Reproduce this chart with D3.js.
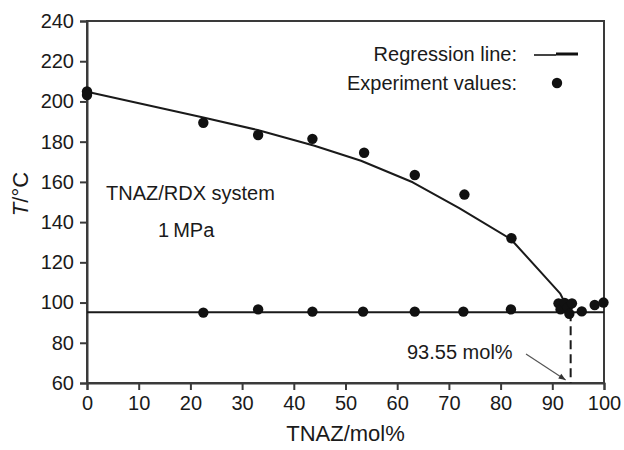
<!DOCTYPE html>
<html>
<head>
<meta charset="utf-8">
<script src="https://cdn.jsdelivr.net/npm/d3@7/dist/d3.min.js"></script>
<style>
  html, body { margin: 0; padding: 0; background: #fff; }
  svg { display: block; font-family: "Liberation Sans", Arial, sans-serif; }
</style>
</head>
<body>
<svg id="chart" width="624" height="450"></svg>
<script>
// Tick values
const xTicks = [0, 10, 20, 30, 40, 50, 60, 70, 80, 90, 100];
const yTicks = [60, 80, 100, 120, 140, 160, 180, 200, 220, 240];

// Regression line for the RDX liquidus (TNAZ mol%, T °C)
const regX = [0, 22.5, 33, 44, 53, 63, 72, 82, 91.5, 92.4];
const regT = [204.8, 192, 185.8, 178, 170.5, 159.8, 147, 131.5, 104.6, 100];

// Eutectic (solidus) line
const eutecticT = 95.2;
const eutecticX = 93.55;

// Experiment values: liquidus
const liqX = [0, 0, 22.5, 33.1, 43.6, 53.6, 63.4, 73, 82.1];
const liqT = [205, 203.2, 189.4, 183.3, 181.4, 174.5, 163.4, 153.7, 132];

// Experiment values: solidus and TNAZ-rich side
const solX = [22.5, 33.1, 43.6, 53.4, 63.4, 72.8, 82, 91.2, 91.6, 92.4, 93.0, 93.3, 93.8, 95.7, 98.2, 99.9];
const solT = [95, 96.6, 95.5, 95.5, 95.5, 95.5, 96.6, 99.6, 96.6, 99.8, 97.6, 94.4, 99.6, 95.6, 98.8, 100];

const svg = d3.select("#chart");
const x = d3.scaleLinear().domain([0, 100]).range([87, 604]);
const y = d3.scaleLinear().domain([60, 240]).range([383, 21]);

const ink = "#1a1a1a";
const axisCol = "#3a3a3a";

// Frame
svg.append("rect")
  .attr("x", x(0)).attr("y", y(240))
  .attr("width", x(100) - x(0)).attr("height", y(60) - y(240))
  .attr("fill", "none").attr("stroke", axisCol).attr("stroke-width", 2);

// Axes
const xAxis = svg.append("g")
  .attr("transform", `translate(0,${y(60)})`)
  .call(d3.axisBottom(x).tickValues(xTicks).tickSize(7).tickPadding(6).tickFormat(d3.format("d")));
const yAxis = svg.append("g")
  .attr("transform", `translate(${x(0)},0)`)
  .call(d3.axisLeft(y).tickValues(yTicks).tickSize(7).tickPadding(6).tickFormat(d3.format("d")));
[xAxis, yAxis].forEach(g => {
  g.select(".domain").attr("stroke", axisCol).attr("stroke-width", 2);
  g.selectAll(".tick line").attr("stroke", axisCol).attr("stroke-width", 2);
  g.selectAll(".tick text").attr("fill", ink).attr("font-size", 20)
    .attr("font-family", "'Liberation Sans', Arial, sans-serif");
});

// Eutectic horizontal line
svg.append("line")
  .attr("x1", x(0)).attr("x2", x(100))
  .attr("y1", y(eutecticT)).attr("y2", y(eutecticT))
  .attr("stroke", ink).attr("stroke-width", 2);

// Regression curve
const reg = regX.map((v, i) => [v, regT[i]]);
svg.append("path")
  .datum(reg)
  .attr("fill", "none").attr("stroke", ink).attr("stroke-width", 2)
  .attr("stroke-linejoin", "round")
  .attr("d", d3.line().x(d => x(d[0])).y(d => y(d[1])));

// Eutectic composition marker
svg.append("line")
  .attr("x1", x(eutecticX)).attr("x2", x(eutecticX))
  .attr("y1", y(eutecticT)).attr("y2", y(60))
  .attr("stroke", ink).attr("stroke-width", 2).attr("stroke-dasharray", "9,5");

// Points
const pts = liqX.map((v, i) => [v, liqT[i]]).concat(solX.map((v, i) => [v, solT[i]]));
svg.append("g").selectAll("circle").data(pts).join("circle")
  .attr("cx", d => x(d[0])).attr("cy", d => y(d[1])).attr("r", 5.2)
  .attr("fill", "#111");

// Annotation
svg.append("defs").append("marker")
  .attr("id", "arr").attr("viewBox", "0 0 10 10").attr("refX", 10).attr("refY", 5)
  .attr("markerWidth", 9).attr("markerHeight", 7).attr("orient", "auto")
  .attr("markerUnits", "userSpaceOnUse")
  .append("path").attr("d", "M0,1 L10,5 L0,9 Z").attr("fill", "#333");
svg.append("line")
  .attr("x1", 526).attr("y1", 354).attr("x2", x(eutecticX) - 5).attr("y2", 380)
  .attr("stroke", "#555").attr("stroke-width", 1.2).attr("marker-end", "url(#arr)");
svg.append("text")
  .attr("x", 407).attr("y", 359).attr("font-size", 20).attr("fill", ink)
  .text("93.55 mol%");

// Text labels
svg.append("text").attr("x", 106).attr("y", 200).attr("font-size", 20).attr("fill", ink)
  .text("TNAZ/RDX system");
svg.append("text").attr("x", 158).attr("y", 237).attr("font-size", 20).attr("fill", ink)
  .text("1\u2009MPa");

// Legend
svg.append("text").attr("x", 517).attr("y", 61).attr("text-anchor", "end")
  .attr("font-size", 20).attr("fill", ink).text("Regression line:");
svg.append("text").attr("x", 517).attr("y", 90).attr("text-anchor", "end")
  .attr("font-size", 20).attr("fill", ink).text("Experiment values:");
svg.append("line").attr("x1", 534).attr("x2", 556).attr("y1", 55).attr("y2", 55)
  .attr("stroke", "#444").attr("stroke-width", 2);
svg.append("line").attr("x1", 556).attr("x2", 578).attr("y1", 54).attr("y2", 54)
  .attr("stroke", "#111").attr("stroke-width", 3);
svg.append("circle").attr("cx", 557).attr("cy", 83).attr("r", 5.2).attr("fill", "#111");

// Axis titles
svg.append("text").attr("x", (x(0) + x(100)) / 2).attr("y", 441)
  .attr("text-anchor", "middle").attr("font-size", 22).attr("fill", ink)
  .text("TNAZ/mol%");
const yt = svg.append("text")
  .attr("transform", "translate(28,194) rotate(-90)")
  .attr("text-anchor", "middle").attr("font-size", 22).attr("fill", ink);
yt.append("tspan").attr("font-style", "italic").text("T");
yt.append("tspan").text("/°C");
</script>
</body>
</html>
